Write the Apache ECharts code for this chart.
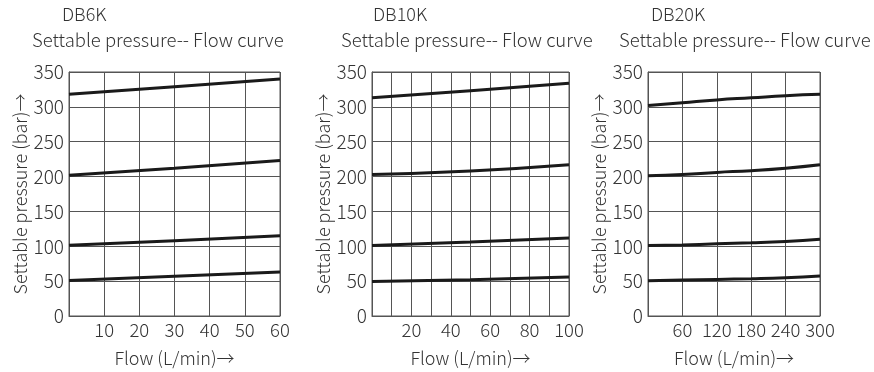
<!DOCTYPE html>
<html>
<head>
<meta charset="utf-8">
<script src="https://cdn.jsdelivr.net/npm/echarts@6/dist/echarts.min.js"></script>
<style>
  html, body { margin: 0; padding: 0; background: #fff; }
  #main { width: 874px; height: 372px; }
</style>
</head>
<body>
<div id="main"></div>
<script>
// chart titles
const titles = ["DB6K", "DB10K", "DB20K"];
const subTitle = "Settable pressure-- Flow curve";

// DB6K
const flow6 = [0, 30, 60];
const db6_a = [318, 329, 340];
const db6_b = [202, 212, 223];
const db6_c = [101.5, 108, 115];
const db6_d = [51, 57, 63];

// DB10K
const flow10 = [0, 50, 100];
const db10_a = [313, 323, 334];
const db10_b = [203, 208, 217];
const db10_c = [101, 106, 112];
const db10_d = [49.5, 52, 56];

// DB20K
const flow20 = [0, 60, 120, 180, 240, 300];
const db20_a = [302, 306, 310, 313, 316, 318];
const db20_b = [201, 203, 206, 208.5, 212, 217];
const db20_c = [101, 102, 103.5, 105, 107, 110];
const db20_d = [50.5, 51.5, 52.5, 53.5, 55, 57.5];

const yTicks = [0, 50, 100, 150, 200, 250, 300, 350];

var font = "Noto Sans CJK SC";
var txt = "#333";

function pairs(xs, ys) {
  return xs.map(function (x, i) { return [x, ys[i]]; });
}

let myChart = echarts.init(document.getElementById("main"));

// grid boxes (px)
const grids = [
  { left: 69, top: 72, width: 211, height: 244 },
  { left: 372, top: 72, width: 197, height: 244 },
  { left: 648, top: 72, width: 172, height: 244 },
];
const xMax = [60, 100, 300];
const xInt = [10, 10, 60];
const seriesData = [
  [db6_a, db6_b, db6_c, db6_d],
  [db10_a, db10_b, db10_c, db10_d],
  [db20_a, db20_b, db20_c, db20_d],
];
const flows = [flow6, flow10, flow20];
const titleLeft = [57, 368, 646];
const subLeft = [27, 336, 614];

let option = {
  backgroundColor: "#fff",
  animation: false,
  title: [],
  grid: grids.map(function (g) {
    return Object.assign({ show: true, borderColor: "#555", borderWidth: 1, containLabel: false }, g);
  }),
  xAxis: [],
  yAxis: [],
  series: [],
};

for (let i = 0; i < 3; i++) {
  option.title.push({
    text: titles[i],
    left: titleLeft[i],
    top: 0,
    textStyle: { fontFamily: font, fontWeight: 300, fontSize: 18, color: txt },
  });
  option.title.push({
    text: subTitle,
    left: subLeft[i],
    top: 26,
    textStyle: { fontFamily: font, fontWeight: 300, fontSize: 18.5, color: txt },
  });
  option.xAxis.push({
    type: "value",
    gridIndex: i,
    min: 0,
    max: xMax[i],
    interval: xInt[i],
    name: "Flow (L/min)→",
    nameLocation: "middle",
    nameGap: 33,
    nameTextStyle: { fontFamily: font, fontWeight: 300, fontSize: 18, color: txt },
    axisTick: { show: false },
    axisLine: { lineStyle: { color: "#555", width: 1 } },
    axisLabel: {
      margin: 5,
      fontFamily: font,
      fontWeight: 300,
      fontSize: 18.5,
      color: txt,
      formatter: function (v) {
        if (v === 0) return "";
        if (i === 1 && v % 20 !== 0) return "";
        return v;
      },
    },
    splitLine: { show: true, lineStyle: { color: "#555", width: 1 } },
  });
  option.yAxis.push({
    type: "value",
    gridIndex: i,
    min: yTicks[0],
    max: yTicks[yTicks.length - 1],
    interval: 50,
    name: "Settable pressure (bar)→",
    nameLocation: "middle",
    nameGap: 40,
    nameTextStyle: { fontFamily: font, fontWeight: 300, fontSize: 18, color: txt },
    axisTick: { show: false },
    axisLine: { lineStyle: { color: "#555", width: 1 } },
    axisLabel: { margin: 5, fontFamily: font, fontWeight: 300, fontSize: 19, color: txt },
    splitLine: { show: true, lineStyle: { color: "#555", width: 1 } },
  });
  seriesData[i].forEach(function (ys) {
    option.series.push({
      type: "line",
      xAxisIndex: i,
      yAxisIndex: i,
      smooth: true,
      showSymbol: false,
      lineStyle: { color: "#1a1a1a", width: 3 },
      data: pairs(flows[i], ys),
    });
  });
}

myChart.setOption(option);
</script>
</body>
</html>
